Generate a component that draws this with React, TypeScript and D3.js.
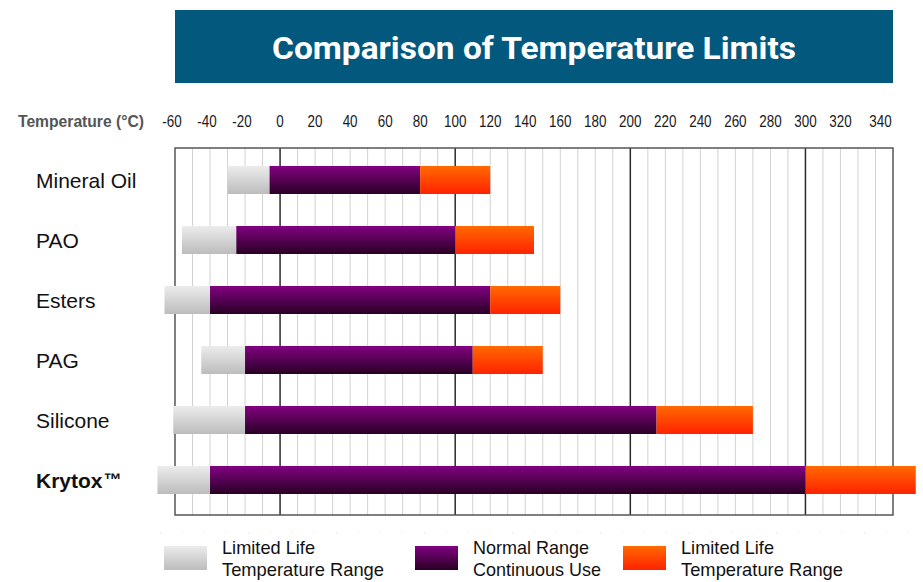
import React, { useEffect, useRef } from "react";
import * as d3 from "d3";

const fluids = ["Mineral Oil", "PAO", "Esters", "PAG", "Silicone", "Krytox"];
const limitedLow = [-30, -56, -66, -45, -61, -70];
const normalLow = [-6, -25, -40, -20, -20, -40];
const normalHigh = [80, 100, 120, 110, 215, 300];
const limitedHigh = [120, 145, 160, 150, 270, 363];
const tickValues = d3.range(-60, 341, 20);
const legendLabels = [
  ["Limited Life", "Temperature Range"],
  ["Normal Range", "Continuous Use"],
  ["Limited Life", "Temperature Range"],
];

const App = () => {
  const svgRef = useRef<SVGSVGElement>(null);

  useEffect(() => {
    const width = 923;
    const height = 582;
    const plot = { left: 175, right: 893, top: 148, bottom: 515 };

    const svg = d3.select(svgRef.current).attr("width", width).attr("height", height);
    svg.selectAll("*").remove();

    const defs = svg.append("defs");
    const grad = (id: string, top: string, bottom: string) => {
      const g = defs.append("linearGradient").attr("id", id).attr("x1", 0).attr("y1", 0).attr("x2", 0).attr("y2", 1);
      g.append("stop").attr("offset", "0%").attr("stop-color", top);
      g.append("stop").attr("offset", "100%").attr("stop-color", bottom);
    };
    grad("gGray", "#ececec", "#bcbcbc");
    grad("gPurple", "#820082", "#280024");
    grad("gOrange", "#ff6a00", "#ff2200");

    const x = d3.scaleLinear().domain([-60, 350]).range([plot.left, plot.right]);
    const y = d3
      .scaleBand()
      .domain(fluids)
      .range([plot.top + 2, plot.top + 2 + 60 * fluids.length]);

    // title banner
    svg.append("rect").attr("x", 175).attr("y", 10).attr("width", 718).attr("height", 73).attr("fill", "#03587d");
    svg
      .append("text")
      .attr("x", 534)
      .attr("y", 59)
      .attr("text-anchor", "middle")
      .attr("fill", "#fff")
      .style("font-family", "Roboto, 'Liberation Sans', sans-serif")
      .style("font-weight", 700)
      .style("font-size", "32px")
      .attr("textLength", 524)
      .attr("lengthAdjust", "spacingAndGlyphs")
      .text("Comparison of Temperature Limits");

    // axis caption and tick labels
    svg
      .append("text")
      .attr("x", 18)
      .attr("y", 127)
      .attr("fill", "#555")
      .style("font-family", "'Liberation Sans', Arial, sans-serif")
      .style("font-weight", 700)
      .style("font-size", "16px")
      .attr("textLength", 126)
      .attr("lengthAdjust", "spacingAndGlyphs")
      .text("Temperature (°C)");

    const squeeze = 0.84;
    svg
      .append("g")
      .attr("transform", `scale(${squeeze},1)`)
      .selectAll("text")
      .data(tickValues)
      .join("text")
      .attr("x", (d) => (x(d) - (d < 0 ? 3 : d === 340 ? -5 : 0)) / squeeze)
      .attr("y", 127)
      .attr("text-anchor", "middle")
      .attr("fill", "#1a1a1a")
      .style("font-family", "'Liberation Sans', Arial, sans-serif")
      .style("font-size", "16px")
      .text((d) => d);

    // grid
    const grid = svg.append("g");
    grid
      .selectAll("line")
      .data(d3.range(-50, 350, 10))
      .join("line")
      .attr("x1", (d) => x(d))
      .attr("x2", (d) => x(d))
      .attr("y1", plot.top)
      .attr("y2", plot.bottom)
      .attr("stroke", (d) => (d % 100 === 0 ? "#2a2a2a" : "#d2d2d2"))
      .attr("stroke-width", (d) => (d % 100 === 0 ? 1.5 : 1));

    svg
      .append("rect")
      .attr("x", plot.left)
      .attr("y", plot.top)
      .attr("width", plot.right - plot.left)
      .attr("height", plot.bottom - plot.top)
      .attr("fill", "none")
      .attr("stroke", "#555")
      .attr("stroke-width", 1.5);

    // faint dotted line under chart
    svg
      .append("line")
      .attr("x1", 160)
      .attr("x2", 920)
      .attr("y1", 533)
      .attr("y2", 533)
      .attr("stroke", "#ddd")
      .attr("stroke-dasharray", "1,21");

    // bars
    const barH = 28;
    const rows = svg
      .append("g")
      .selectAll("g")
      .data(fluids)
      .join("g")
      .attr("transform", (d) => `translate(0,${y(d)! + (y.bandwidth() - barH) / 2})`);

    rows
      .append("rect")
      .attr("x", (d, i) => x(limitedLow[i]))
      .attr("width", (d, i) => x(normalLow[i]) - x(limitedLow[i]))
      .attr("height", barH)
      .attr("fill", "url(#gGray)");
    rows
      .append("rect")
      .attr("x", (d, i) => x(normalLow[i]))
      .attr("width", (d, i) => x(normalHigh[i]) - x(normalLow[i]))
      .attr("height", barH)
      .attr("fill", "url(#gPurple)");
    rows
      .append("rect")
      .attr("x", (d, i) => x(normalHigh[i]))
      .attr("width", (d, i) => x(limitedHigh[i]) - x(normalHigh[i]))
      .attr("height", barH)
      .attr("fill", "url(#gOrange)");

    // row labels
    const labels = svg
      .append("g")
      .selectAll("text")
      .data(fluids)
      .join("text")
      .attr("x", 36)
      .attr("y", (d) => y(d)! + y.bandwidth() / 2 + 8)
      .attr("fill", "#111")
      .style("font-family", "'Liberation Sans', Arial, sans-serif")
      .style("font-size", "21px")
      .style("font-weight", (d) => (d === "Krytox" ? 700 : 400));
    labels.append("tspan").text((d) => d);
    labels
      .filter((d) => d === "Krytox")
      .append("tspan")
      .attr("dy", -2)
      .attr("dx", 1)
      .style("font-size", "18px")
      .text("™");

    // legend
    const legendX = [164, 415, 623];
    const legendW = [
      [93, 162],
      [116, 128],
      [93, 162],
    ];
    const fills = ["url(#gGray)", "url(#gPurple)", "url(#gOrange)"];
    const legend = svg
      .append("g")
      .selectAll("g")
      .data(legendLabels)
      .join("g")
      .attr("transform", (d, i) => `translate(${legendX[i]},0)`);
    legend
      .append("rect")
      .attr("y", 546)
      .attr("width", 43)
      .attr("height", 24)
      .attr("fill", (d, i) => fills[i]);
    legend.each(function (lines, i) {
      d3.select(this)
        .selectAll("text")
        .data(lines)
        .join("text")
        .attr("x", 58)
        .attr("y", (d, j) => 554 + j * 22)
        .attr("fill", "#111")
        .style("font-family", "'Liberation Sans', Arial, sans-serif")
        .style("font-size", "19px")
        .attr("textLength", (d, j) => legendW[i][j])
        .attr("lengthAdjust", "spacingAndGlyphs")
        .text((d) => d);
    });
  }, []);

  return (
    <svg ref={svgRef} style={{ position: "absolute", left: 0, top: 0, background: "#fff" }} />
  );
};

export default App;
